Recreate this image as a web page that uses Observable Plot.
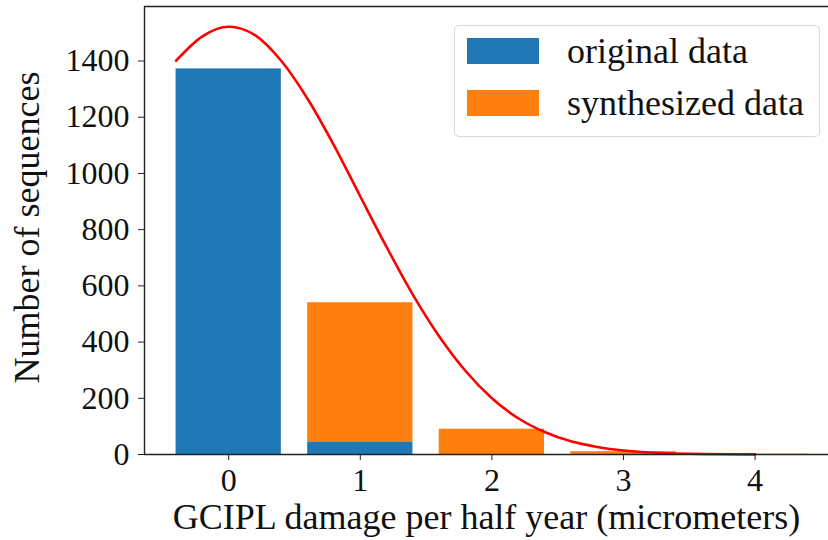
<!DOCTYPE html>
<html>
<head>
<meta charset="utf-8">
<script src="https://cdn.jsdelivr.net/npm/d3@7"></script>
<script src="https://cdn.jsdelivr.net/npm/@observablehq/plot@0.6"></script>
<style>
  html, body { margin: 0; padding: 0; background: #fff; }
  #wrap { position: relative; width: 828px; height: 540px; font-family: "Liberation Serif", "Times New Roman", serif; }
  #legend { position: absolute; left: 454px; top: 25px; width: 366px; height: 112px; box-sizing: border-box;
            border: 1.5px solid #d8d8d8; border-radius: 5px; background: rgba(255,255,255,0.85); }
  .item { position: absolute; left: 12px; height: 26px; display: flex; align-items: center; font-size: 36px; color: #111; white-space: nowrap; }
  .swatch { width: 72px; height: 26px; margin-right: 28px; flex: none; }
</style>
</head>
<body>
<div id="wrap"></div>
<script>
// damage bins (micrometers per half year)
const bins = [0, 1, 2, 3, 4];
const originalCounts = [1372, 45, 0, 0, 0];
const synthesizedCounts = [0, 495, 90, 10, 1];

// fitted density curve, scaled to counts
const curveX = [-0.4, -0.2, 0, 0.2, 0.4, 0.6, 0.8, 1.0, 1.2, 1.4, 1.6, 1.8, 2.0, 2.2, 2.4, 2.6, 2.8, 3.0, 3.2, 3.4, 3.6, 3.8, 4.0];
const curveY = [1401, 1488, 1522, 1492, 1400, 1265, 1100, 918, 738, 568, 420, 297, 200, 129, 80, 47, 27, 14, 7, 3.5, 1.6, 0.7, 0.3];

const yTicks = [0, 200, 400, 600, 800, 1000, 1200, 1400];
const xTicks = [0, 1, 2, 3, 4];

const seriesNames = ["original data", "synthesized data"];
const seriesColors = ["#1f77b4", "#ff7f0e"];

const barHalfWidth = 0.4;
const xDomain = [-0.64, 4.558];
const yDomain = [0, 1594];

const bars = bins.map((b, i) => ({
  bin: b,
  original: originalCounts[i],
  total: originalCounts[i] + synthesizedCounts[i]
}));
const curve = curveX.map((x, i) => ({x, y: curveY[i]}));

const font = "'Liberation Serif', 'Times New Roman', serif";
const intFormat = d3.format("d");

const chart = Plot.plot({
  width: 828,
  height: 540,
  marginLeft: 144,
  marginRight: 0,
  marginTop: 6,
  marginBottom: 86,
  style: {fontFamily: font, fontSize: "32px", color: "#111", background: "white"},
  x: {domain: xDomain},
  y: {domain: yDomain},
  marks: [
    Plot.rectY(bars, {x1: d => d.bin - barHalfWidth, x2: d => d.bin + barHalfWidth, y1: 0, y2: "original", fill: seriesColors[0]}),
    Plot.rectY(bars, {x1: d => d.bin - barHalfWidth, x2: d => d.bin + barHalfWidth, y1: "original", y2: "total", fill: seriesColors[1]}),
    Plot.line(curve, {x: "x", y: "y", stroke: "red", strokeWidth: 2.6, curve: "monotone-x"}),
    Plot.ruleY([yDomain[0]], {stroke: "#222", strokeWidth: 1.4}),
    Plot.ruleY([yDomain[1]], {stroke: "#222", strokeWidth: 1.4}),
    Plot.ruleX([xDomain[0]], {stroke: "#222", strokeWidth: 1.4}),
    Plot.axisX({ticks: xTicks, tickFormat: intFormat, tickSize: 6, tickPadding: 8, label: null, stroke: "#222", fill: "#111", fontSize: 32}),
    Plot.axisY({ticks: yTicks, tickFormat: intFormat, tickSize: 6, tickPadding: 9, label: null, stroke: "#222", fill: "#111", fontSize: 32}),
    Plot.text(["GCIPL damage per half year (micrometers)"], {frameAnchor: "bottom", dy: 63, fontSize: 36, fill: "#111", lineAnchor: "middle"}),
    Plot.text(["Number of sequences"], {frameAnchor: "left", textAnchor: "middle", dx: -117, dy: -3, rotate: -90, fontSize: 36, fill: "#111", lineAnchor: "middle"})
  ]
});

const wrap = document.getElementById("wrap");
wrap.appendChild(chart);

const legend = document.createElement("div");
legend.id = "legend";
seriesNames.forEach((name, i) => {
  const item = document.createElement("div");
  item.className = "item";
  item.style.top = (i === 0 ? 12 : 64) + "px";
  const sw = document.createElement("div");
  sw.className = "swatch";
  sw.style.background = seriesColors[i];
  const label = document.createElement("span");
  label.textContent = name;
  item.appendChild(sw);
  item.appendChild(label);
  legend.appendChild(item);
});
wrap.appendChild(legend);
</script>
</body>
</html>
